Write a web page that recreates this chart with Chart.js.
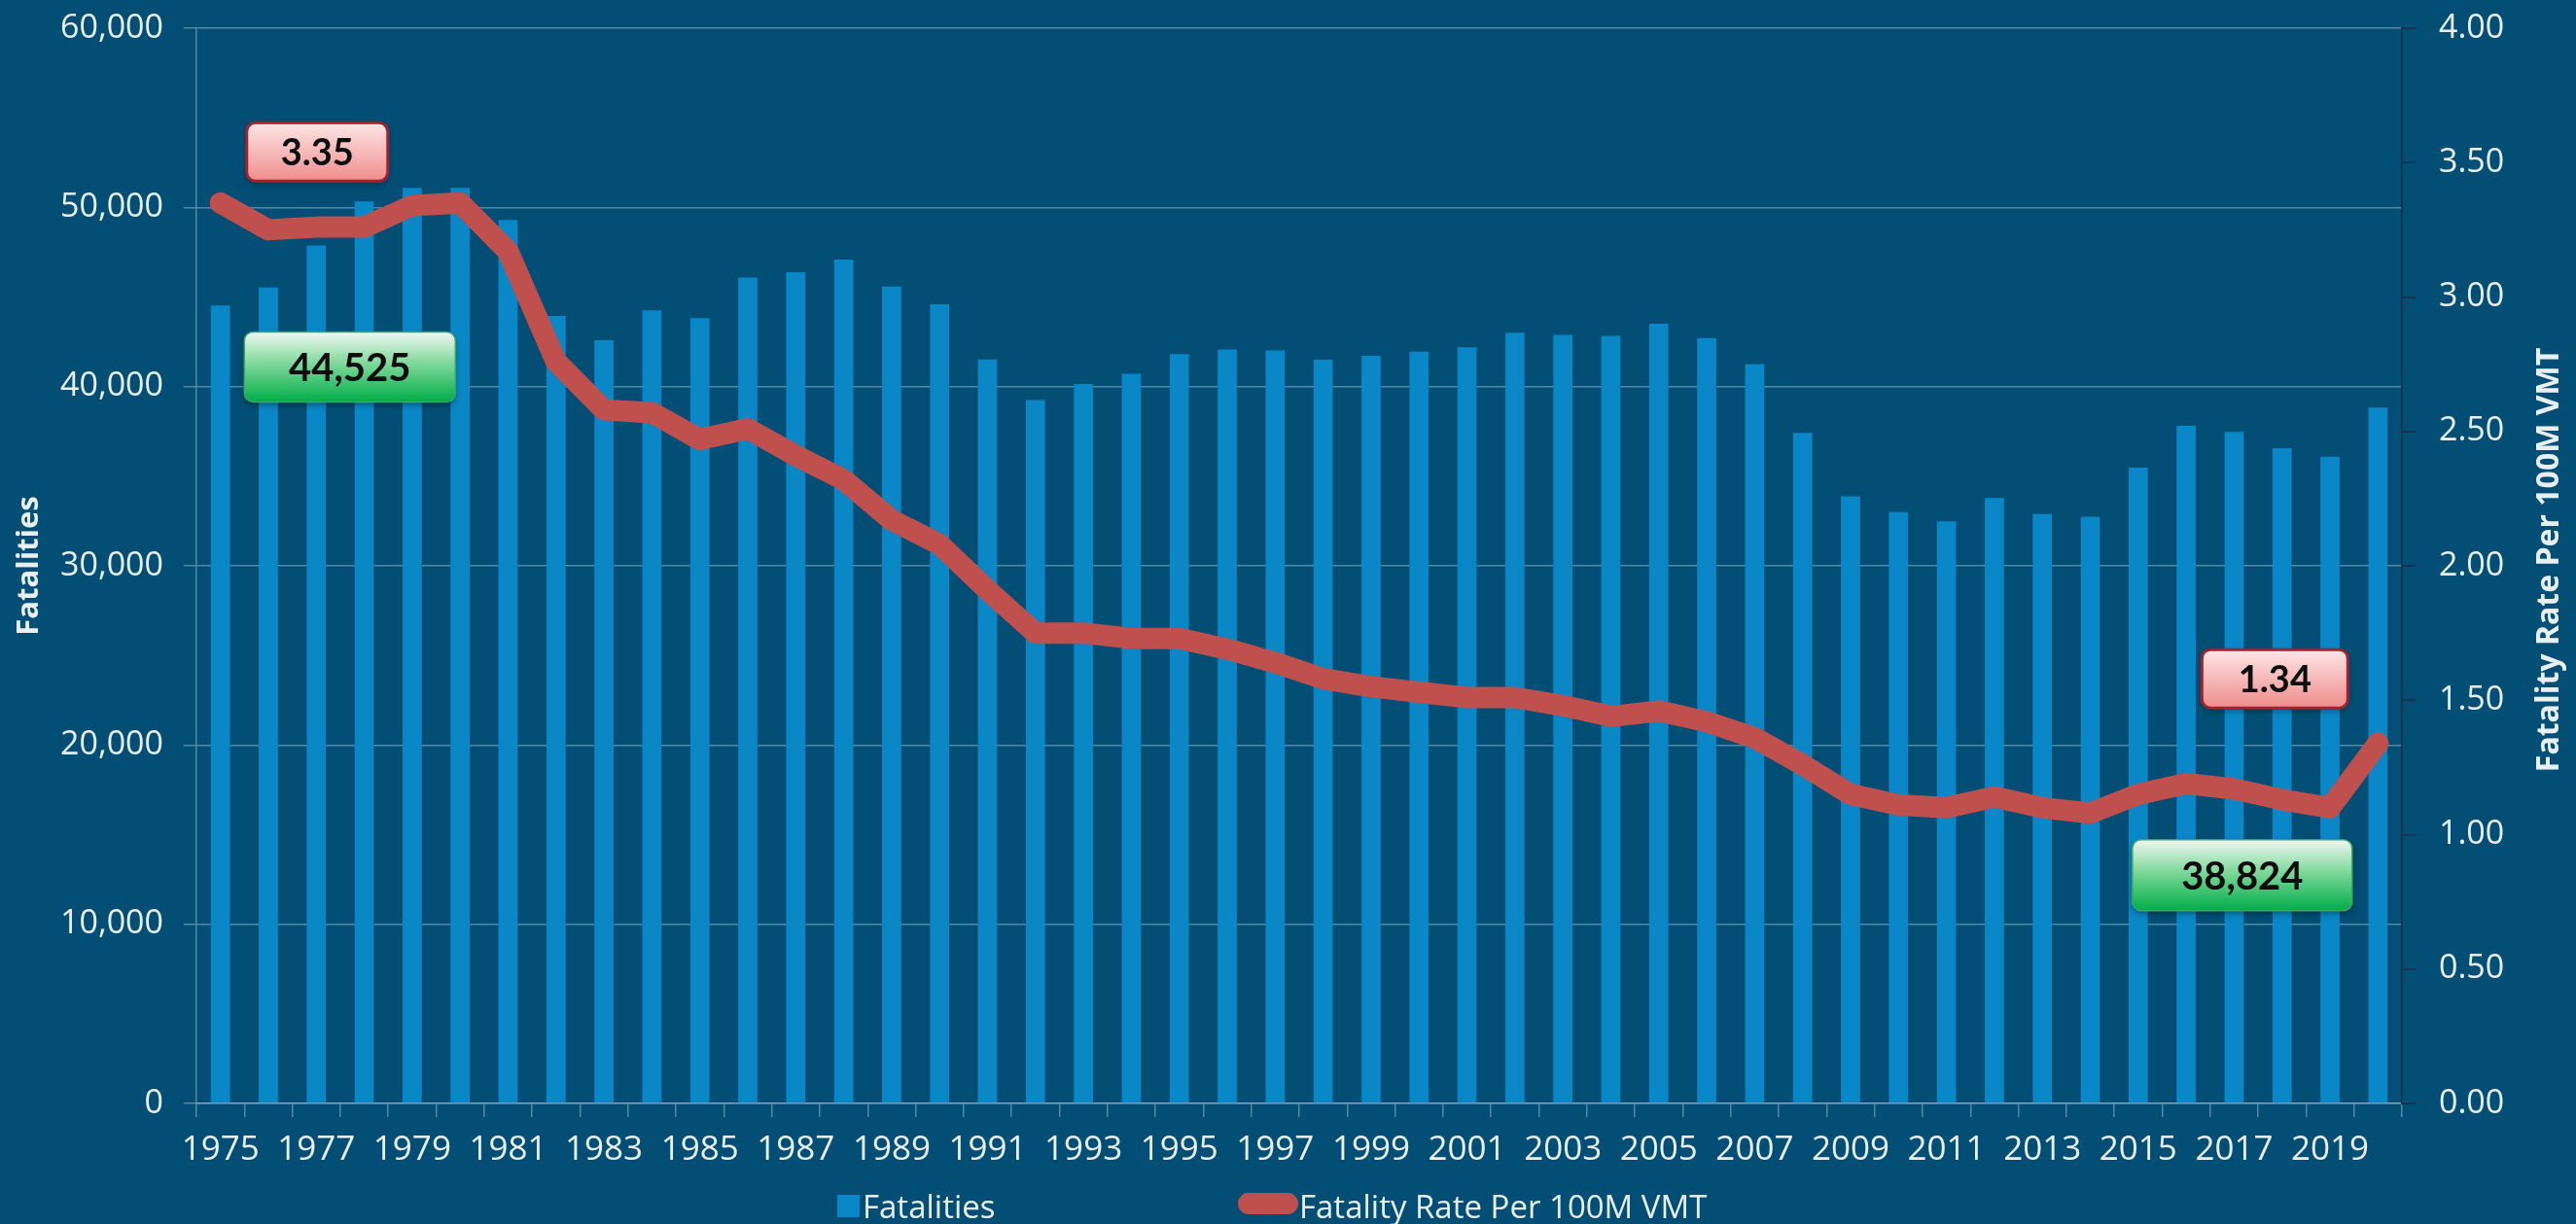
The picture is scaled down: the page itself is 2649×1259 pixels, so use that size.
<!DOCTYPE html>
<html>
<head>
<meta charset="utf-8">
<script src="https://cdn.jsdelivr.net/npm/chart.js@4.4.1/dist/chart.umd.min.js"></script>
<style>
  html, body { margin: 0; padding: 0; background: #024e74; overflow: hidden; }
  #wrap { width: 2649px; height: 1259px; position: relative; }
</style>
</head>
<body>
<div id="wrap"><canvas id="fatalChart"></canvas></div>
<script>
var years = [];
for (var yr = 1975; yr <= 2020; yr++) years.push(String(yr));

var fatalities = [44525, 45523, 47878, 50331, 51093, 51091, 49301, 43945, 42589, 44257,
                  43825, 46087, 46390, 47087, 45582, 44599, 41508, 39250, 40150, 40716,
                  41817, 42065, 42013, 41501, 41717, 41945, 42196, 43005, 42884, 42836,
                  43510, 42708, 41259, 37423, 33883, 32999, 32479, 33782, 32893, 32744,
                  35484, 37806, 37473, 36560, 36096, 38824];

var fatalityRate = [3.35, 3.25, 3.26, 3.26, 3.34, 3.35, 3.17, 2.76, 2.58, 2.57,
                    2.47, 2.51, 2.41, 2.32, 2.17, 2.08, 1.91, 1.75, 1.75, 1.73,
                    1.73, 1.69, 1.64, 1.58, 1.55, 1.53, 1.51, 1.51, 1.48, 1.44,
                    1.46, 1.42, 1.36, 1.26, 1.15, 1.11, 1.10, 1.14, 1.10, 1.08,
                    1.15, 1.19, 1.17, 1.13, 1.10, 1.34];

var seriesNames = ['Fatalities', 'Fatality Rate Per 100M VMT'];
var leftTicks = [0, 10000, 20000, 30000, 40000, 50000, 60000];
var rightTicks = [0, 0.5, 1, 1.5, 2, 2.5, 3, 3.5, 4];

var bg = '#024e74', barColor = '#0987c7', lineColor = '#c0504d';
var gridColor = 'rgba(150,185,210,0.55)', textColor = '#e9f0f4';
var FONT = '"Open Sans", Lato, sans-serif';
var BOXFONT = 'Lato, "Open Sans", sans-serif';

// callout boxes: first and last value of each series
var last = years.length - 1;
var callouts = [
  { text: fatalityRate[0].toFixed(2), axis: 'y1', at: 2.02, value: 3.54, w: 145, h: 60, kind: 'red' },
  { text: fatalities[0].toLocaleString('en-US'), axis: 'y', at: 2.70, value: 41100, w: 217, h: 72, kind: 'green' },
  { text: fatalityRate[last].toFixed(2), axis: 'y1', at: 42.85, value: 1.58, w: 150, h: 60, kind: 'red' },
  { text: fatalities[last].toLocaleString('en-US'), axis: 'y', at: 42.17, value: 12740, w: 226, h: 73, kind: 'green' }
];

function drawCallout(ctx, c, cx, cy) {
  var x0 = cx - c.w / 2, y0 = cy - c.h / 2;
  var g = ctx.createLinearGradient(0, y0, 0, y0 + c.h);
  if (c.kind === 'red') {
    g.addColorStop(0, '#fde6e6');
    g.addColorStop(1, '#ef8c8c');
  } else {
    g.addColorStop(0, '#f0f7f3');
    g.addColorStop(0.45, '#7fd89b');
    g.addColorStop(1, '#00ad48');
  }
  ctx.save();
  ctx.shadowColor = 'rgba(0,0,0,0.35)';
  ctx.shadowBlur = 6;
  ctx.shadowOffsetY = 3;
  ctx.beginPath();
  ctx.roundRect(x0, y0, c.w, c.h, 9);
  ctx.fillStyle = g;
  ctx.fill();
  ctx.shadowColor = 'transparent';
  ctx.lineWidth = c.kind === 'red' ? 3 : 1.5;
  ctx.strokeStyle = c.kind === 'red' ? '#a3212a' : '#3aa862';
  ctx.stroke();
  ctx.fillStyle = '#0d0d0d';
  ctx.font = 'bold ' + (c.kind === 'red' ? 38 : 40) + 'px ' + BOXFONT;
  ctx.textAlign = 'center';
  ctx.textBaseline = 'middle';
  ctx.fillText(c.text, cx, cy + 2);
  ctx.restore();
}

var overlay = {
  id: 'overlay',
  afterDraw: function (chart) {
    var ctx = chart.ctx, xs = chart.scales.x, area = chart.chartArea;
    var step = xs.getPixelForValue(1) - xs.getPixelForValue(0);
    callouts.forEach(function (c) {
      var cx = xs.getPixelForValue(0) + c.at * step;
      var cy = chart.scales[c.axis].getPixelForValue(c.value);
      drawCallout(ctx, c, cx, cy);
    });

    // axis titles, both reading bottom to top
    var midY = (area.top + area.bottom) / 2;
    ctx.save();
    ctx.fillStyle = textColor;
    ctx.textAlign = 'center';
    ctx.textBaseline = 'middle';
    [[30, midY, 31, seriesNames[0]], [2622, midY - 6, 32, seriesNames[1]]].forEach(function (t) {
      ctx.save();
      ctx.font = 'bold ' + t[2] + 'px ' + FONT;
      ctx.translate(t[0], t[1]);
      ctx.rotate(-Math.PI / 2);
      ctx.fillText(t[3], 0, 0);
      ctx.restore();
    });
    ctx.restore();

    // legend
    ctx.save();
    ctx.font = '33px ' + FONT;
    ctx.textBaseline = 'alphabetic';
    ctx.fillStyle = barColor;
    ctx.fillRect(861, 1229, 23, 23);
    ctx.fillStyle = textColor;
    ctx.fillText(seriesNames[0], 887, 1253);
    ctx.strokeStyle = lineColor;
    ctx.lineWidth = 22;
    ctx.lineCap = 'round';
    ctx.beginPath();
    ctx.moveTo(1284, 1238);
    ctx.lineTo(1324, 1238);
    ctx.stroke();
    ctx.fillStyle = textColor;
    ctx.fillText(seriesNames[1], 1336, 1253);
    ctx.restore();
  }
};

Chart.defaults.font.family = FONT;
Chart.defaults.color = textColor;

function noPad(s) { s.paddingTop = 0; s.paddingBottom = 0; }

new Chart(document.getElementById('fatalChart').getContext('2d'), {
  type: 'bar',
  data: {
    labels: years,
    datasets: [
      {
        type: 'line', label: seriesNames[1], data: fatalityRate, yAxisID: 'y1', order: 0,
        borderColor: lineColor, borderWidth: 22, pointRadius: 0, tension: 0,
        borderCapStyle: 'round', borderJoinStyle: 'round', fill: false
      },
      {
        type: 'bar', label: seriesNames[0], data: fatalities, yAxisID: 'y', order: 1,
        backgroundColor: barColor, barPercentage: 0.4, categoryPercentage: 1
      }
    ]
  },
  options: {
    responsive: true,
    maintainAspectRatio: false,
    animation: false,
    layout: { padding: { top: 29, left: 0, right: 0, bottom: 0 } },
    plugins: { legend: { display: false }, tooltip: { enabled: false } },
    scales: {
      x: {
        afterFit: function (s) { s.height = 124; s.paddingLeft = 0; s.paddingRight = 0; },
        grid: { drawOnChartArea: false, drawTicks: true, tickLength: 14, color: gridColor, lineWidth: 1.5 },
        border: { display: true, color: gridColor, width: 1.5 },
        ticks: {
          autoSkip: false, maxRotation: 0, minRotation: 0, padding: 13,
          font: { size: 35 }, color: textColor,
          callback: function (v, i) { return i % 2 === 0 ? years[i] : ''; }
        }
      },
      y: {
        position: 'left', min: 0, max: 60000,
        afterFit: function (s) { s.width = 202; noPad(s); },
        afterBuildTicks: function (s) { s.ticks = leftTicks.map(function (v) { return { value: v }; }); },
        grid: { color: gridColor, lineWidth: 1.5, tickLength: 13 },
        border: { display: true, color: gridColor, width: 1.5 },
        ticks: {
          padding: 21, font: { size: 34 }, color: textColor,
          callback: function (v) { return v.toLocaleString('en-US'); }
        }
      },
      y1: {
        position: 'right', min: 0, max: 4,
        afterFit: function (s) { s.width = 179; noPad(s); },
        afterBuildTicks: function (s) { s.ticks = rightTicks.map(function (v) { return { value: v }; }); },
        grid: { drawOnChartArea: false, color: '#17344f', lineWidth: 2, tickLength: 14 },
        border: { display: true, color: '#17344f', width: 2 },
        ticks: {
          padding: 24, font: { size: 34 }, color: textColor,
          callback: function (v) { return v.toFixed(2); }
        }
      }
    }
  },
  plugins: [overlay]
});
</script>
</body>
</html>
